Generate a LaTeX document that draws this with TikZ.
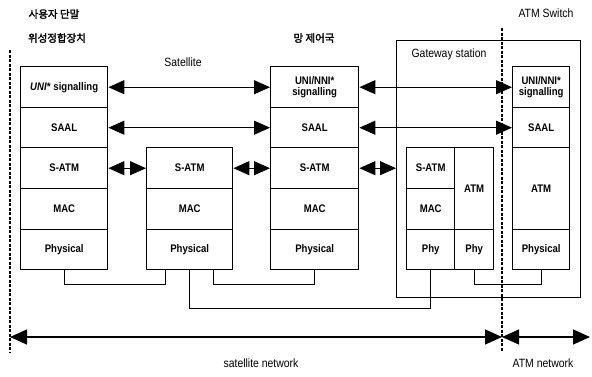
\documentclass[tikz,border=0pt]{standalone}
\usepackage{fontspec}
\setmainfont{Liberation Sans}[FakeStretch=0.87]
\newfontfamily\krfont{Noto Sans CJK KR}[AutoFakeBold=2]
\usetikzlibrary{arrows.meta,calc}

\begin{document}
\begin{tikzpicture}[x=1pt,y=-1pt,
  layer/.style={draw, line width=1.4pt, anchor=north west, inner sep=1pt,
    align=center, font=\fontsize{11}{11.5}\selectfont\bfseries},
  caption/.style={font=\fontsize{12}{13}\selectfont},
  krlabel/.style={font=\fontsize{10.5}{11}\selectfont\krfont\bfseries},
  peer/.style={line width=1.1pt, {Triangle[length=16pt,width=14pt]}-{Triangle[length=16pt,width=14pt]}},
  link/.style={line width=1.1pt},
  boundary/.style={line width=1.4pt, dash pattern=on 3pt off 1.5pt},
  scope/.style={line width=1.3pt, {Triangle[length=17pt,width=15pt]}-{Triangle[length=17pt,width=15pt]}}
]
\useasboundingbox (0,0) rectangle (592,376);

% headings
\node[krlabel] (hterm) at (54,14) {사용자 단말};
\node[krlabel] (hadapt) at (57,38) {위성정합장치};
\node[krlabel] (hctrl) at (314,38) {망 제어국};
\node[caption] (hsat) at (183,62) {Satellite};
\node[caption] (hsw) at (546,13) {ATM Switch};

% gateway station enclosure
\node[draw, line width=1.4pt, anchor=north west, minimum width=184pt, minimum height=257pt] (gw) at (396,40) {};
\node[caption] (gwl) at (449,54) {Gateway station};

% user terminal adapter stack
\node[layer, minimum width=87pt, minimum height=41pt] (u1) at (20,66) {\textit{UNI*} signalling};
\node[layer, minimum width=87pt, minimum height=40pt] (a1) at (20,107) {SAAL};
\node[layer, minimum width=87pt, minimum height=41pt] (s1) at (20,147) {S-ATM};
\node[layer, minimum width=87pt, minimum height=41pt] (m1) at (20,188) {MAC};
\node[layer, minimum width=87pt, minimum height=40pt] (p1) at (20,229) {Physical};

% satellite stack
\node[layer, minimum width=86pt, minimum height=41pt] (s2) at (146,147) {S-ATM};
\node[layer, minimum width=86pt, minimum height=41pt] (m2) at (146,188) {MAC};
\node[layer, minimum width=86pt, minimum height=40pt] (p2) at (146,229) {Physical};

% network control station stack
\node[layer, minimum width=88pt, minimum height=41pt] (u3) at (270,66) {UNI/NNI*\\signalling};
\node[layer, minimum width=88pt, minimum height=40pt] (a3) at (270,107) {SAAL};
\node[layer, minimum width=88pt, minimum height=41pt] (s3) at (270,147) {S-ATM};
\node[layer, minimum width=88pt, minimum height=41pt] (m3) at (270,188) {MAC};
\node[layer, minimum width=88pt, minimum height=40pt] (p3) at (270,229) {Physical};

% gateway internals
\node[layer, minimum width=48pt, minimum height=41pt] (gs) at (406,147) {S-ATM};
\node[layer, minimum width=48pt, minimum height=41pt] (gm) at (406,188) {MAC};
\node[layer, minimum width=48pt, minimum height=40pt] (gp1) at (406,229) {Phy};
\node[layer, minimum width=39pt, minimum height=82pt] (ga) at (454,147) {ATM};
\node[layer, minimum width=39pt, minimum height=40pt] (gp2) at (454,229) {Phy};

% ATM switch stack
\node[layer, minimum width=57pt, minimum height=41pt] (u4) at (512,66) {UNI/NNI*\\signalling};
\node[layer, minimum width=57pt, minimum height=40pt] (a4) at (512,107) {SAAL};
\node[layer, minimum width=57pt, minimum height=82pt] (t4) at (512,147) {ATM};
\node[layer, minimum width=57pt, minimum height=40pt] (p4) at (512,229) {Physical};

% peer-to-peer protocol arrows
\draw[peer] (u1.east) -- (u3.west);
\draw[peer] (a1.east) -- (a3.west);
\draw[peer] (s1.east) -- (s2.west);
\draw[peer] (s2.east) -- (s3.west);
\draw[peer] (u3.east) -- (u4.west);
\draw[peer] (a3.east) -- (a4.west);
\draw[peer] (s3.east) -- (s3.east -| gw.west);

% physical links
\draw[link] (p1.south) -- ++(0,14) -| ([xshift=-24pt]p2.south);
\draw[link] ([xshift=24pt]p2.south) -- ++(0,14) -| (p3.south);
\draw[link] (p2.south) -- ++(0,38) -| (gp1.south);
\draw[link] (gp2.south) -- ++(0,14) -| (p4.south);

% network boundaries
\coordinate (ltop) at (10,50);
\coordinate (lbot) at (10,352);
\coordinate (btop) at (502,28);
\coordinate (bbot) at (502,352);
\draw[boundary] (ltop) -- (lbot);
\draw[boundary] (btop) -- (bbot);

% network extents
\coordinate (sl) at (10,337);
\coordinate (sm) at (502,337);
\coordinate (sr) at (590,337);
\draw[scope] (sl) -- (sm);
\draw[scope] (sm) -- (sr);
\node[caption] (nsat) at (261,363) {satellite network};
\node[caption] (natm) at (543,363) {ATM network};
\end{tikzpicture}
\end{document}
